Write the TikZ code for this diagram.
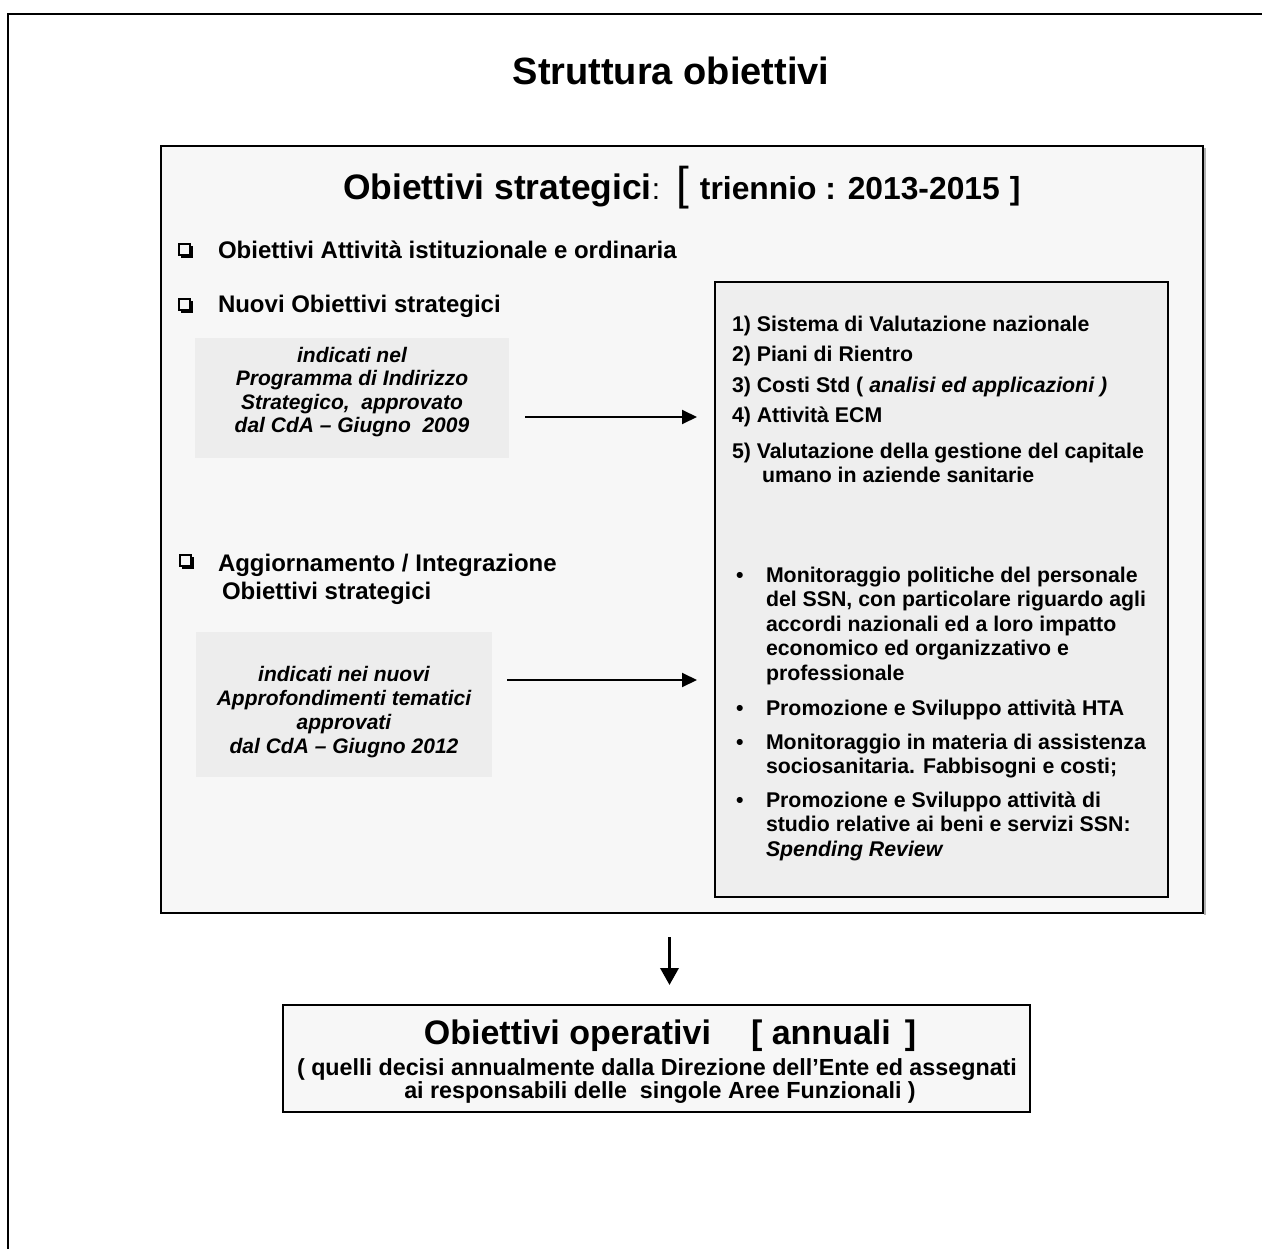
\documentclass[tikz,border=0pt]{standalone}
\usepackage{fontspec}
\setmainfont{Liberation Sans}
\usetikzlibrary{arrows.meta}
\definecolor{panel}{HTML}{F7F7F7}
\definecolor{graybox}{HTML}{EDEDED}
\definecolor{listbox}{HTML}{EEEEEE}
\newcommand{\fs}[2]{\fontsize{#1}{#2}\selectfont}
\newcommand{\mlines}[2]{\begin{tabular}[t]{@{}#1@{}}#2\end{tabular}}
\newcommand{\mlinesc}[2]{\begin{tabular}{@{}#1@{}}#2\end{tabular}}
\begin{document}
\begin{tikzpicture}[x=1pt,y=-1pt,
  panelbox/.style={draw=black,line width=2pt,fill=panel,inner sep=0pt,outer sep=0pt},
  listboxs/.style={draw=black,line width=2.4pt,fill=listbox,inner sep=0pt,outer sep=0pt},
  grayboxs/.style={fill=graybox,inner sep=0pt,outer sep=0pt},
  txt/.style={inner sep=0pt,outer sep=0pt,anchor=base west,font=\bfseries},
  listtxt/.style={txt,font=\fs{21.3}{24.5}\bfseries},
  cbtxt/.style={txt,font=\fs{24}{28.5}\bfseries},
  boxtxt/.style={inner sep=0pt,font=\bfseries\itshape},
  arr/.style={line width=2pt,-{Triangle[length=15pt,width=14pt]}},
  darr/.style={line width=3.5pt,-{Triangle[length=17pt,width=18pt]}},
  cbline/.style={line width=1.8pt}
]
\useasboundingbox (0,0) rectangle (1262,1249);
\begin{scope}
\clip (0,0) rectangle (1262,1249);
\draw[line width=2.6pt] (8,14) rectangle (1300,1300);
\end{scope}

% title
\node[inner sep=0pt,anchor=base,font=\fs{38}{44}\bfseries] (title) at (671,85) {Struttura obiettivi};

% strategic panel
\draw[gray!60,line width=2pt] (1205,148) -- (1205,915);
\node[panelbox,minimum width=1042pt,minimum height=767pt,anchor=north west] (strat) at (161,146) {};
\node[txt] (head) at (343,200) {{\fs{35.4}{40}Obiettivi strategici}{\mdseries\fs{30}{36}:}\hspace{16pt}{\mdseries\fs{46}{50}[}\hspace{11pt}{\fs{31.8}{36}triennio : 2013-2015\hspace{10pt}]}};

% checkbox items
\foreach \cx/\cy in {179/244, 179/299, 180/555}{
  \draw[cbline] (\cx,\cy) rectangle ++(11,11);
  \fill (\cx+11,\cy+2) rectangle ++(2.8,11.8);
  \fill (\cx+2,\cy+11) rectangle ++(11.8,2.8);
}
\node[cbtxt] (c1) at (218,259) {Obiettivi Attività istituzionale e ordinaria};
\node[cbtxt] (c2) at (218,313) {Nuovi Obiettivi strategici};
\node[cbtxt] (c3) at (218,571) {\mlines{l}{Aggiornamento / Integrazione\\\hspace{4pt}Obiettivi strategici}};

% gray boxes
\node[grayboxs,minimum width=314pt,minimum height=120pt] (g1) at (352,398) {};
\node[boxtxt,font=\fs{21}{23.5}\bfseries\itshape] (g1t) at (352,393) {\mlinesc{c}{indicati nel\\Programma di Indirizzo\\Strategico,\ \ approvato\\dal CdA – Giugno\ \ 2009}};
\node[grayboxs,minimum width=296pt,minimum height=145pt] (g2) at (344,704.5) {};
\node[boxtxt,font=\fs{21}{24}\bfseries\itshape] (g2t) at (344,713) {\mlinesc{c}{indicati nei nuovi\\Approfondimenti tematici\\approvati\\dal CdA – Giugno 2012}};

% right list box
\node[listboxs,minimum width=453pt,minimum height=615pt,anchor=north west] (rbox) at (715,282) {};
\node[listtxt] (l1) at (732,332) {1) Sistema di Valutazione nazionale};
\node[listtxt] (l2) at (732,362) {2) Piani di Rientro};
\node[listtxt] (l3) at (732,393) {3) Costi Std ( \textit{analisi ed applicazioni )}};
\node[listtxt] (l4) at (732,423) {4) Attività ECM};
\node[listtxt] (l5) at (732,458) {\mlines{l}{5) Valutazione della gestione del capitale\\\hspace{30pt}umano in aziende sanitarie}};

\node[listtxt] (d1) at (736,582) {•};
\node[listtxt] (b1) at (766,582) {\mlines{l}{Monitoraggio politiche del personale\\del SSN, con particolare riguardo agli\\accordi nazionali ed a loro impatto\\economico ed organizzativo e\\professionale}};
\node[listtxt] (d2) at (736,715) {•};
\node[listtxt] (b2) at (766,715) {Promozione e Sviluppo attività HTA};
\node[listtxt] (d3) at (736,749) {•};
\node[listtxt] (b3) at (766,749) {\mlines{l}{Monitoraggio in materia di assistenza\\sociosanitaria. Fabbisogni e costi;}};
\node[listtxt] (d4) at (736,807) {•};
\node[listtxt] (b4) at (766,807) {\mlines{l}{Promozione e Sviluppo attività di\\studio relative ai beni e servizi SSN:\\\textit{Spending Review}}};

% arrows
\draw[arr,shorten <=16pt,shorten >=18pt] ([yshift=-19pt]g1.east) -- ([yshift=-19pt]g1.east -| rbox.west);
\draw[arr,shorten <=15pt,shorten >=18pt] ([yshift=24.5pt]g2.east) -- ([yshift=24.5pt]g2.east -| rbox.west);

% operative box
\node[panelbox,minimum width=747pt,minimum height=107pt] (ops) at (656.5,1058.5) {};
\node[inner sep=0pt,anchor=base,font=\fs{34}{40}\bfseries] (opst) at (670,1044) {Obiettivi operativi\hspace{40pt}[ annuali\hspace{14pt}]};
\node[inner sep=0pt,anchor=base,font=\fs{23.3}{26}\bfseries] (ops1) at (657,1075) {( quelli decisi annualmente dalla Direzione dell’Ente ed assegnati};
\node[inner sep=0pt,anchor=base,font=\fs{23.3}{26}\bfseries] (ops2) at (660,1098) {ai responsabili delle\ \ singole Aree Funzionali )};

\draw[darr,shorten <=24pt,shorten >=20pt] ([xshift=13pt]ops.north |- strat.south) -- ([xshift=13pt]ops.north);
\end{tikzpicture}
\end{document}
